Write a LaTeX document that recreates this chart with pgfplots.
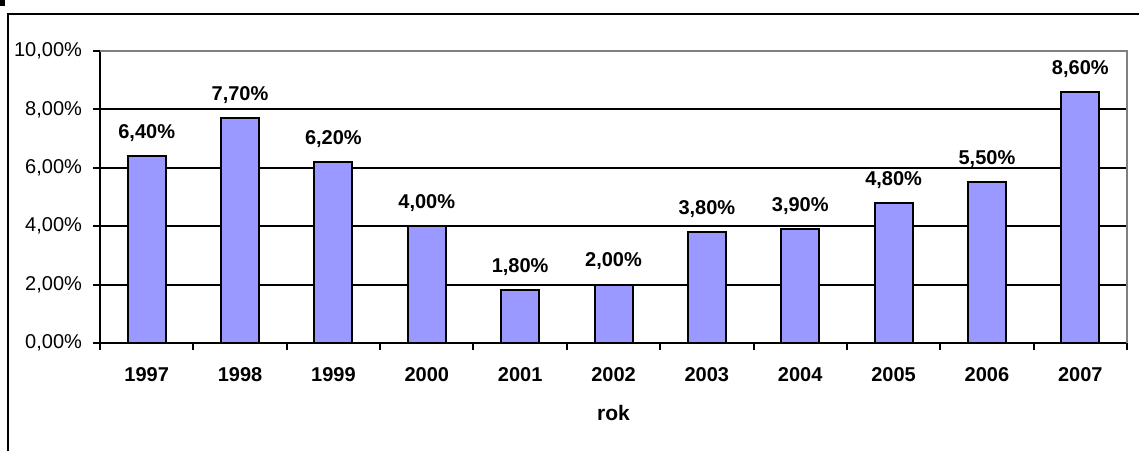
\documentclass[border=0pt]{standalone}
\usepackage{pgfplots}
\pgfplotsset{compat=1.18}
\usepackage{fontspec}
\setmainfont{Liberation Sans}
\definecolor{barblue}{HTML}{9999FF}
\definecolor{frgray}{HTML}{808080}

\begin{document}
\begin{tikzpicture}
  \path[use as bounding box] (0pt,0pt) rectangle (569.5pt,225.5pt);
  % outer chart frame
  \draw[line width=1.1pt] (4pt,0pt) -- (4pt,218.5pt) -- (569.5pt,218.5pt);
  \begin{axis}[
    at={(50pt,54pt)}, anchor=south west,
    scale only axis, width=513.5pt, height=146pt,
    xmin=-0.5, xmax=10.5, ymin=0, ymax=10,
    ytick={0,2,...,10},
    xtick={0,...,10},
    xticklabels={1997,1998,1999,2000,2001,2002,2003,2004,2005,2006,2007},
    minor xtick={-0.5,0.5,...,10.5},
    tick align=outside,
    major x tick style={draw=none},
    minor tick length=3.5pt,
    major tick length=3.5pt,
    every tick/.style={black, line width=1pt},
    axis x line*=bottom, axis y line*=left,
    axis line style={black, line width=1pt, -},
    ymajorgrids, major grid style={black, line width=1pt},
    /pgf/number format/assume math mode=true,
    yticklabel={\pgfmathprintnumber[fixed,fixed zerofill,precision=2,use comma]{\tick}\%},
    yticklabel style={font=\fontsize{10}{12}\selectfont, xshift=-2pt},
    xticklabel style={font=\bfseries\fontsize{10}{12}\selectfont, yshift=-5pt},
    xlabel={rok},
    xlabel style={font=\bfseries\fontsize{10.5}{12}\selectfont, yshift=-5pt},
    ybar, bar width=19pt,
    nodes near coords={\pgfmathprintnumber[fixed,fixed zerofill,precision=2,use comma]{\pgfplotspointmeta}\%},
    every node near coord/.append style={font=\bfseries\fontsize{10}{12}\selectfont, yshift=3.5pt},
    clip=false,
  ]
    \addplot[fill=barblue, draw=black, line width=1pt, bar shift=0pt]
      coordinates {(0,6.4) (1,7.7) (2,6.2) (3,4.0) (4,1.8) (5,2.0)
                   (6,3.8) (7,3.9) (8,4.8) (9,5.5) (10,8.6)};
    % grey upper and right border of the plot area
    \draw[frgray, line width=1pt] (axis cs:-0.5,10) -- (axis cs:10.5,10) -- (axis cs:10.5,0);
  \end{axis}
  % fragment of text above the frame
  \fill (0pt,225.5pt) rectangle (2.5pt,222.5pt);
\end{tikzpicture}
\end{document}
